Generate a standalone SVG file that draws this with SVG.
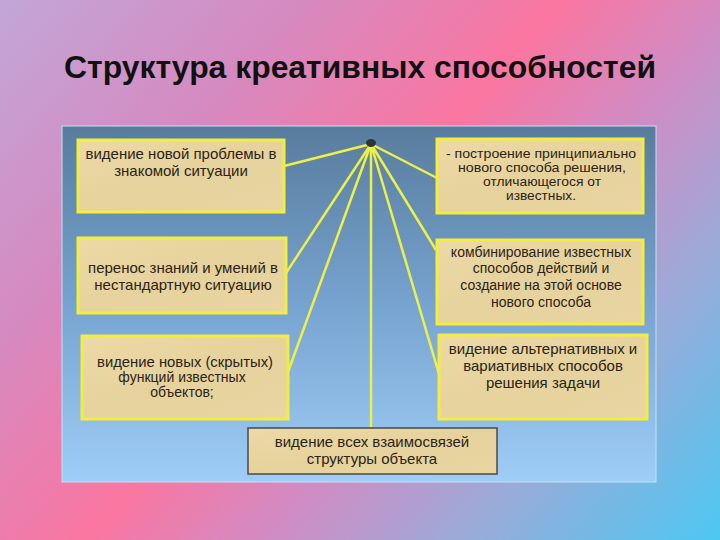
<svg xmlns="http://www.w3.org/2000/svg" width="720" height="540" viewBox="0 0 720 540">
<defs>
<linearGradient id="bg" x1="0" y1="0" x2="674" y2="593" gradientUnits="userSpaceOnUse">
<stop offset="0" stop-color="#c2a6d8"/>
<stop offset="0.25" stop-color="#d58ac0"/>
<stop offset="0.47" stop-color="#fa76a0"/>
<stop offset="0.62" stop-color="#d08cc4"/>
<stop offset="0.78" stop-color="#9caad8"/>
<stop offset="1" stop-color="#4cc8f2"/>
</linearGradient>
<linearGradient id="panel" x1="0" y1="0" x2="0" y2="1">
<stop offset="0" stop-color="#587c9d"/>
<stop offset="0.5" stop-color="#76a3cf"/>
<stop offset="1" stop-color="#9ecdf7"/>
</linearGradient>
<linearGradient id="paper" x1="0" y1="0" x2="1" y2="1">
<stop offset="0" stop-color="#ecd9a6"/>
<stop offset="0.5" stop-color="#e6d29c"/>
<stop offset="1" stop-color="#e9d5a2"/>
</linearGradient>
<style>
.box{fill:url(#paper);stroke:#f3ee3e;stroke-width:3}
.box2{fill:url(#paper);stroke:#4a4a44;stroke-width:1.5}
.t{font-family:"Liberation Sans",Arial,sans-serif;font-size:15px;fill:#2b2316;text-anchor:middle}
.s{font-size:14px}
.xs{font-size:13px}
.c{stroke:#eef04a;stroke-width:2.5;fill:none}
</style>
</defs>
<rect x="0" y="0" width="720" height="540" fill="url(#bg)"/>
<text x="360" y="78" font-family="'Liberation Sans',Arial,sans-serif" font-size="31" font-weight="bold" fill="#111" text-anchor="middle" textLength="592" lengthAdjust="spacingAndGlyphs">Структура креативных способностей</text>
<rect x="62" y="126" width="594" height="356" fill="url(#panel)" stroke="#c8e0f0" stroke-width="1"/>
<g id="connectors">
<line class="c" x1="371" y1="144" x2="284" y2="166"/>
<line class="c" x1="371" y1="144" x2="286" y2="273"/>
<line class="c" x1="371" y1="144" x2="288" y2="372"/>
<line class="c" x1="371" y1="144" x2="437" y2="178"/>
<line class="c" x1="371" y1="144" x2="436" y2="250"/>
<line class="c" x1="371" y1="144" x2="439" y2="374"/>
<line class="c" x1="371" y1="144" x2="371" y2="427"/>
</g>
<g id="hub"><ellipse cx="371" cy="143" rx="5" ry="4" fill="#2e3438"/></g>
<g id="n1"><rect class="box" x="78" y="140" width="206" height="72"/>
<text class="t" x="181" y="159">видение новой проблемы в</text>
<text class="t" x="181" y="176">знакомой ситуации</text></g>
<g id="n2"><rect class="box" x="78" y="238" width="208" height="75"/>
<text class="t" x="183" y="273">перенос знаний и умений в</text>
<text class="t" x="183" y="290">нестандартную ситуацию</text></g>
<g id="n3"><rect class="box" x="82" y="336" width="206" height="83"/>
<text class="t s" x="185" y="367" textLength="176" lengthAdjust="spacingAndGlyphs">видение новых (скрытых)</text>
<text class="t s" x="182" y="382">функций известных</text>
<text class="t s" x="182" y="397">объектов;</text></g>
<g id="n4"><rect class="box" x="437" y="139" width="206" height="74"/>
<text class="t xs" x="541" y="158" textLength="190" lengthAdjust="spacingAndGlyphs">- построение принципиально</text>
<text class="t xs" x="542" y="172" textLength="168" lengthAdjust="spacingAndGlyphs">нового способа решения,</text>
<text class="t xs" x="542" y="186" textLength="118" lengthAdjust="spacingAndGlyphs">отличающегося от</text>
<text class="t xs" x="541" y="200" textLength="70" lengthAdjust="spacingAndGlyphs">известных.</text></g>
<g id="n5"><rect class="box" x="437" y="240" width="206" height="84"/>
<text class="t s" x="541" y="257">комбинирование известных</text>
<text class="t s" x="541" y="273">способов действий и</text>
<text class="t s" x="541" y="290">создание на этой основе</text>
<text class="t s" x="541" y="307">нового способа</text></g>
<g id="n6"><rect class="box" x="439" y="335" width="208" height="84"/>
<text class="t" x="543" y="354">видение альтернативных и</text>
<text class="t" x="543" y="371">вариативных способов</text>
<text class="t" x="543" y="388">решения задачи</text></g>
<g id="n7"><rect class="box2" x="248" y="428" width="249" height="46"/>
<text class="t" x="372" y="447">видение всех взаимосвязей</text>
<text class="t" x="372" y="464">структуры объекта</text></g>
</svg>
